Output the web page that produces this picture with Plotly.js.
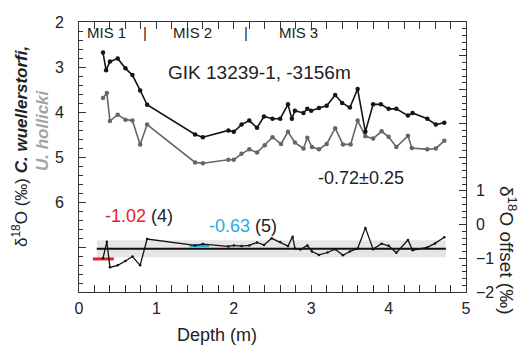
<!DOCTYPE html>
<html>
<head>
<meta charset="utf-8">
<script src="https://cdn.plot.ly/plotly-3.0.1.min.js"></script>
<style>html,body{margin:0;padding:0;background:#fff;}#chart{width:522px;height:346px;}</style>
</head>
<body>
<div id="chart"></div>
<script>
// C. wuellerstorfi d18O (left axis, reversed)
const depthCw = [0.31,0.35,0.40,0.50,0.60,0.69,0.79,0.88,1.50,1.60,1.93,2.00,2.10,2.20,2.30,2.39,2.50,2.60,2.70,2.75,2.79,2.90,2.95,3.00,3.10,3.20,3.31,3.40,3.50,3.60,3.70,3.80,3.90,4.00,4.10,4.25,4.31,4.50,4.61,4.72];
const d18OCw = [2.68,3.07,2.88,2.81,3.03,3.18,3.52,3.84,4.50,4.56,4.41,4.44,4.28,4.19,4.35,4.10,4.15,4.15,3.83,4.15,3.97,4.02,3.93,3.97,3.91,3.86,3.62,3.80,3.90,3.49,4.44,3.83,3.83,3.93,3.93,4.08,4.02,4.15,4.28,4.24];
// U. hollicki d18O (left axis, reversed)
const depthUh = [0.31,0.36,0.40,0.50,0.60,0.69,0.79,0.88,1.50,1.60,1.93,2.00,2.10,2.20,2.30,2.40,2.50,2.61,2.70,2.79,2.90,2.95,3.01,3.10,3.20,3.31,3.41,3.51,3.60,3.70,3.80,3.91,4.00,4.10,4.25,4.30,4.50,4.61,4.72];
const d18OUh = [3.69,3.58,4.20,4.06,4.17,4.19,4.72,4.28,5.12,5.14,5.06,5.06,4.93,4.83,4.90,4.74,4.56,4.71,4.44,4.68,4.81,4.57,4.78,4.83,4.71,4.36,4.72,4.72,4.19,4.54,4.59,4.43,4.55,4.78,4.53,4.80,4.83,4.81,4.64];
// d18O offset (right axis)
const depthOff = [0.31,0.36,0.40,0.50,0.60,0.69,0.79,0.88,1.50,1.60,1.93,2.00,2.10,2.20,2.30,2.39,2.49,2.60,2.70,2.76,2.79,2.86,2.95,3.01,3.10,3.21,3.31,3.41,3.50,3.60,3.70,3.80,3.91,4.00,4.10,4.25,4.31,4.50,4.60,4.72];
const offset = [-1.00,-0.51,-1.27,-1.21,-1.08,-0.95,-1.21,-0.43,-0.62,-0.58,-0.65,-0.62,-0.64,-0.62,-0.53,-0.61,-0.41,-0.52,-0.64,-0.36,-0.71,-0.74,-0.62,-0.80,-0.90,-0.83,-0.73,-0.91,-0.80,-0.71,-0.10,-0.73,-0.57,-0.63,-0.84,-0.46,-0.76,-0.68,-0.56,-0.38];
// mean offset and its spread
const meanOffset = -0.72;
const sdOffset = 0.25;
const meanDepthRange = [0.23, 4.74];
// group mean offsets (MIS 1 and MIS 2)
const groupMeans = [-1.02, -0.63];
const groupCounts = [4, 5];
const groupDepthStart = [0.18, 1.43];
const groupDepthEnd = [0.45, 1.68];
const groupColors = ['#e8202a', '#29abe2'];
// MIS labels
const misLabels = ['MIS 1', '|', 'MIS 2', '|', 'MIS 3'];
const misDepths = [0.36, 0.85, 1.46, 2.16, 2.83];
// axis ticks
const leftTickVals = [2,3,4,5,6];
const leftAllTicks = [2,3,4,5,6,7];
const rightTickVals = [-2,-1,0,1];
const rightAllTicks = [-2,-1,0,1,2,3,4,5];
const xTicks = [0,1,2,3,4,5];

const FONT = 'Liberation Sans, Arial, Helvetica, sans-serif';
const traces = [];

traces.push({
  x: [meanDepthRange[0], meanDepthRange[1], meanDepthRange[1], meanDepthRange[0], meanDepthRange[0]],
  y: [meanOffset - sdOffset, meanOffset - sdOffset, meanOffset + sdOffset, meanOffset + sdOffset, meanOffset - sdOffset],
  yaxis: 'y2', mode: 'lines', fill: 'toself', fillcolor: '#e6e6e6', line: {width: 0, color: 'rgba(0,0,0,0)'},
  hoverinfo: 'skip', showlegend: false
});
traces.push({
  x: meanDepthRange, y: [meanOffset, meanOffset], yaxis: 'y2', mode: 'lines',
  line: {color: '#111', width: 2}, showlegend: false
});
for (let i = 0; i < groupMeans.length; i++) {
  traces.push({
    x: [groupDepthStart[i], groupDepthEnd[i]], y: [groupMeans[i], groupMeans[i]], yaxis: 'y2', mode: 'lines',
    line: {color: groupColors[i], width: 3}, showlegend: false
  });
}
traces.push({
  x: depthOff, y: offset, yaxis: 'y2', mode: 'lines+markers',
  line: {color: '#111', width: 1.3}, marker: {color: '#111', size: 2.5}, showlegend: false
});
traces.push({
  x: depthUh, y: d18OUh, mode: 'lines+markers',
  line: {color: '#666', width: 1.6}, marker: {color: '#666', size: 4.5}, showlegend: false
});
traces.push({
  x: depthCw, y: d18OCw, mode: 'lines+markers',
  line: {color: '#151515', width: 1.6}, marker: {color: '#151515', size: 4.5}, showlegend: false
});

const L = 79, R = 466, T = 22, B = 292;
const px = v => (v - L) / (R - L);
const py = v => (B - v) / (B - T);

function note(xp, yp, text, size, color, extra) {
  return Object.assign({x: xp, y: yp, xref: 'paper', yref: 'paper', xanchor: 'center', yanchor: 'middle',
    text: text, showarrow: false, font: {family: FONT, size: size, color: color}}, extra || {});
}

const annotations = [];
for (let i = 0; i < misLabels.length; i++) {
  annotations.push(Object.assign(note(0, py(32), misLabels[i], 15, '#222'), {x: misDepths[i], xref: 'x'}));
}
annotations.push(note(px(259), py(72), 'GIK 13239-1, -3156m', 19, '#222'));
annotations.push(note(px(361), py(178), meanOffset.toFixed(2) + '±' + sdOffset.toFixed(2), 18, '#222'));
annotations.push(note(px(139), py(216),
  '<span style="color:' + groupColors[0] + '">' + groupMeans[0].toFixed(2) + '</span> (' + groupCounts[0] + ')', 18, '#222'));
annotations.push(note(px(243), py(226),
  '<span style="color:' + groupColors[1] + '">' + groupMeans[1].toFixed(2) + '</span> (' + groupCounts[1] + ')', 18, '#222'));
annotations.push(note(px(20), py(147), 'δ<sup>18</sup>O (‰) <b><i>C. wuellerstorfi,</i></b>', 17, '#222', {textangle: -90}));
annotations.push(note(px(42), py(130), '<b><i>U. hollicki</i></b>', 17, '#a3a3a3', {textangle: -90}));
annotations.push(note(px(508), py(250), 'δ<sup>18</sup>O offset (‰)', 19, '#222', {textangle: 90}));
annotations.push(note(px(217), py(335), 'Depth (m)', 18, '#222'));

const tickStyle = {ticks: 'inside', ticklen: 7, tickwidth: 1, tickcolor: '#333', showgrid: false, zeroline: false};
const minorStyle = {ticks: 'inside', ticklen: 4, tickcolor: '#333', showgrid: false};

const layout = {
  width: 522, height: 346,
  margin: {l: L, r: 522 - R, t: T, b: 346 - B},
  paper_bgcolor: '#fff', plot_bgcolor: '#fff',
  font: {family: FONT, size: 16, color: '#222'},
  showlegend: false,
  xaxis: Object.assign({
    range: [0, 5], tickvals: xTicks,
    showline: true, linecolor: '#333', linewidth: 1.2, mirror: 'allticks',
    minor: Object.assign({dtick: 0.2}, minorStyle),
    ticklabelstandoff: 2,
    tickfont: {size: 16, family: FONT, color: '#222'}
  }, tickStyle),
  yaxis: Object.assign({
    range: [8, 2], tickvals: leftAllTicks, showticklabels: false,
    showline: true, linecolor: '#333', linewidth: 1.2,
    minor: Object.assign({dtick: 0.2}, minorStyle)
  }, tickStyle),
  yaxis2: Object.assign({
    range: [-2, 6], overlaying: 'y', side: 'right', tickvals: rightAllTicks, showticklabels: false,
    showline: true, linecolor: '#333', linewidth: 1.2,
    minor: Object.assign({dtick: 0.2}, minorStyle)
  }, tickStyle),
  yaxis3: {
    range: [8, 2], overlaying: 'y', side: 'left', tickvals: leftTickVals, ticks: '', showline: false,
    showgrid: false, zeroline: false, ticklabelstandoff: 14,
    tickfont: {size: 16, family: FONT, color: '#222'}
  },
  yaxis4: {
    range: [-2, 6], overlaying: 'y', side: 'right', tickvals: rightTickVals, ticks: '', showline: false,
    showgrid: false, zeroline: false, ticklabelstandoff: 9,
    tickfont: {size: 16, family: FONT, color: '#222'}
  },
  annotations: annotations
};

traces.push({x: [0], y: [2], yaxis: 'y3', mode: 'markers', marker: {opacity: 0}, hoverinfo: 'skip', showlegend: false});
traces.push({x: [0], y: [0], yaxis: 'y4', mode: 'markers', marker: {opacity: 0}, hoverinfo: 'skip', showlegend: false});

Plotly.newPlot('chart', traces, layout, {staticPlot: true, displayModeBar: false});
</script>
</body>
</html>
